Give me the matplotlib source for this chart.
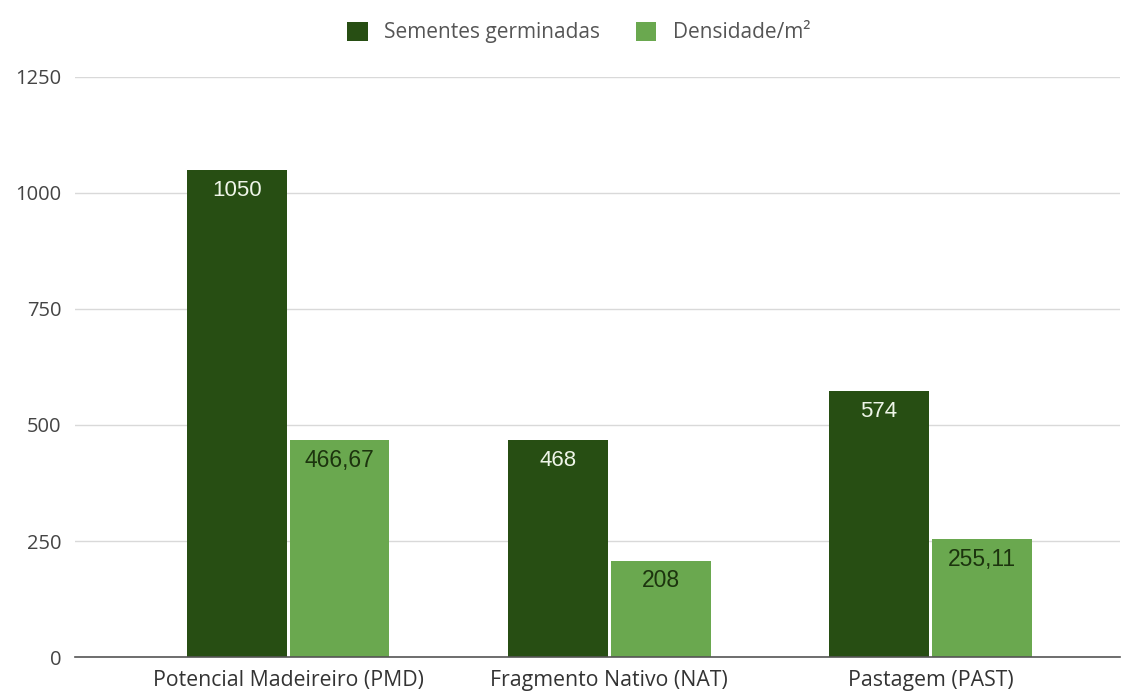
import matplotlib.pyplot as plt
import numpy as np

categories = ["Potencial Madeireiro (PMD)", "Fragmento Nativo (NAT)", "Pastagem (PAST)"]
sementes = [1050, 468, 574]
densidade = [466.67, 208, 255.11]
densidade_labels = ["466,67", "208", "255,11"]
yticks = [0, 250, 500, 750, 1000, 1250]

DARK = "#274e13"
LIGHT = "#6aa84f"

fig = plt.figure(figsize=(11.37, 6.91), dpi=100)
ax = fig.add_axes([0.066, 0.049, 0.919, 0.84])

x = np.arange(len(categories))
w = 0.31
gap = 0.005
b1 = ax.bar(x - w / 2 - gap, sementes, w, color=DARK, label="Sementes germinadas", zorder=3)
b2 = ax.bar(x + w / 2 + gap, densidade, w, color=LIGHT, label="Densidade/m²", zorder=3)

# data labels inside the top of each bar
for rect, val in zip(b1, sementes):
    ax.text(rect.get_x() + rect.get_width() / 2, val - 44, str(val), ha="center", va="center",
            color="#eef5e8", fontsize=16, family="Liberation Sans", zorder=4)
for rect, val, lab in zip(b2, densidade, densidade_labels):
    ax.text(rect.get_x() + rect.get_width() / 2, val - 44, lab, ha="center", va="center",
            color="#1c340e", fontsize=16.5, family="Liberation Sans", zorder=4)

ax.set_ylim(0, 1250)
ax.set_xlim(-0.664, 2.59)
ax.set_yticks(yticks)
ax.set_yticklabels([str(t) for t in yticks], family="Open Sans", fontsize=14.5, color="#444444")
ax.set_xticks(x)
ax.set_xticklabels(categories, family="Open Sans", fontsize=15.3, color="#333333")
ax.tick_params(axis="x", length=0, pad=9)
ax.tick_params(axis="y", length=0, pad=10)
ax.grid(axis="y", color="#d9d9d9", linewidth=1, zorder=0)
for s in ["top", "right", "left"]:
    ax.spines[s].set_visible(False)
ax.spines["bottom"].set_color("#555555")
ax.spines["bottom"].set_linewidth(1.2)
ax.spines["bottom"].set_zorder(5)

leg = ax.legend(loc="lower center", bbox_to_anchor=(0.482, 1.025), ncol=2, frameon=False,
                prop={"family": "Open Sans", "size": 15}, handlelength=1.0, handleheight=1.0,
                columnspacing=1.7, handletextpad=0.8)
for t in leg.get_texts():
    t.set_color("#555555")

fig.savefig("out.png", dpi=100, facecolor="white")
